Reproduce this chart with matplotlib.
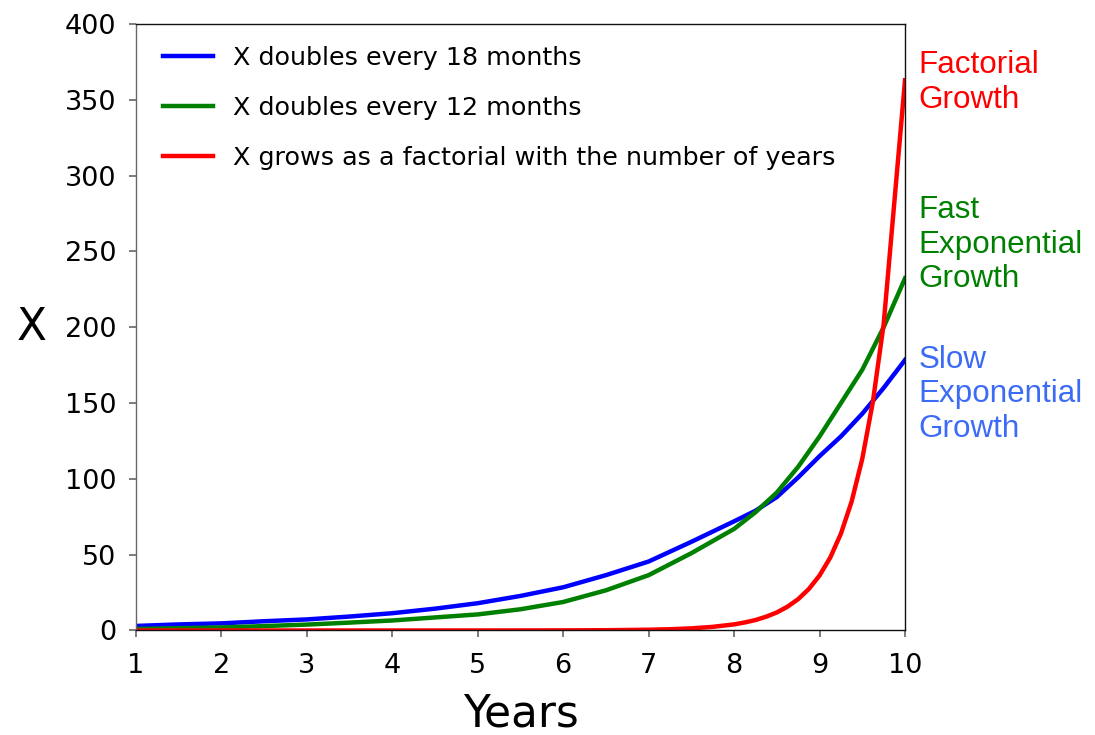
import numpy as np
import matplotlib
matplotlib.use('Agg')
from matplotlib import pyplot as plt

# Growth of X over the years (values read per quarter / half year)
years_slow = [1, 1.5, 2, 2.5, 3, 3.5, 4, 4.5, 5, 5.5, 6, 6.5, 7, 7.5, 8,
              8.25, 8.5, 8.75, 9, 9.25, 9.5, 9.75, 10]
x_slow = [3.0, 4.0, 4.7, 6.1, 7.3, 9.2, 11.4, 14.4, 18.0, 22.8, 28.5, 36.5,
          45.5, 58.5, 72.0, 79.0, 88.0, 101.0, 115.0, 128.0, 143.0, 160.0, 178.4]

years_fast = [1, 1.5, 2, 2.5, 3, 3.5, 4, 4.5, 5, 5.5, 6, 6.5, 7, 7.5, 8,
              8.25, 8.5, 8.75, 9, 9.25, 9.5, 9.75, 10]
x_fast = [1.0, 1.5, 2.0, 2.9, 3.9, 5.2, 6.6, 8.6, 10.6, 14.0, 18.8, 26.5,
          36.5, 51.0, 67.0, 78.0, 91.0, 108.0, 128.0, 150.0, 172.0, 200.0, 232.3]

years_fact = [1, 2, 3, 4, 5, 6, 6.5, 7, 7.25, 7.5, 7.75, 8, 8.125, 8.25,
              8.375, 8.5, 8.625, 8.75, 8.875, 9, 9.125, 9.25, 9.375, 9.5,
              9.625, 9.75, 10]
x_fact = [0.0, 0.0, 0.0, 0.0, 0.01, 0.07, 0.19, 0.5, 0.83, 1.4, 2.4, 4.03,
          5.3, 6.9, 9.1, 11.9, 15.7, 20.7, 27.4, 36.3, 48.1, 63.9, 85.0,
          113.3, 151.2, 202.1, 362.9]

legend_labels = ['X doubles every 18 months',
                 'X doubles every 12 months',
                 'X grows as a factorial with the number of years']

fig = plt.figure(figsize=(10.95, 7.35), dpi=100)
ax = fig.add_axes([0.1242, 0.1422, 0.7023, 0.8251])

ax.plot(years_slow, x_slow, color='#0000ff', lw=3.2, label=legend_labels[0])
ax.plot(years_fast, x_fast, color='#008000', lw=3.2, label=legend_labels[1])
ax.plot(years_fact, x_fact, color='#ff0000', lw=3.2, label=legend_labels[2])

ax.set_xlim(1, 10)
ax.set_ylim(0, 400)
ax.set_xticks(range(1, 11))
ax.set_yticks(range(0, 401, 50))
ax.tick_params(labelsize=19.5, length=5, width=1.2, color='#666666')
ax.tick_params(axis='x', pad=11)
ax.tick_params(axis='y', pad=9)
for s in ax.spines.values():
    s.set_color('#111111')
    s.set_linewidth(1)
ax.spines['left'].set_color('#666666')

ax.set_xlabel('Years', fontsize=31.5, labelpad=10)
ax.set_ylabel('X', fontsize=31.5, rotation=0, labelpad=24, va='center')

ax.legend(loc='upper left', bbox_to_anchor=(0.0221, 0.980), borderaxespad=0,
          frameon=False, fontsize=18.3, handlelength=1.97,
          handletextpad=0.79, labelspacing=1.02)

# labels beside the right edge
lab_font = 'Liberation Sans'
ax.text(1.018, 0.957, 'Factorial\nGrowth', transform=ax.transAxes, color='#ff0000',
        fontsize=22.6, family=lab_font, va='top', ha='left', clip_on=False)
ax.text(1.018, 0.718, 'Fast\nExponential\nGrowth', transform=ax.transAxes,
        color='#008000', fontsize=22.6, family=lab_font, va='top', ha='left',
        clip_on=False)
ax.text(1.018, 0.471, 'Slow\nExponential\nGrowth', transform=ax.transAxes,
        color='#3c6cf5', fontsize=22.6, family=lab_font, va='top', ha='left',
        clip_on=False)

plt.savefig('out.png', dpi=100)
